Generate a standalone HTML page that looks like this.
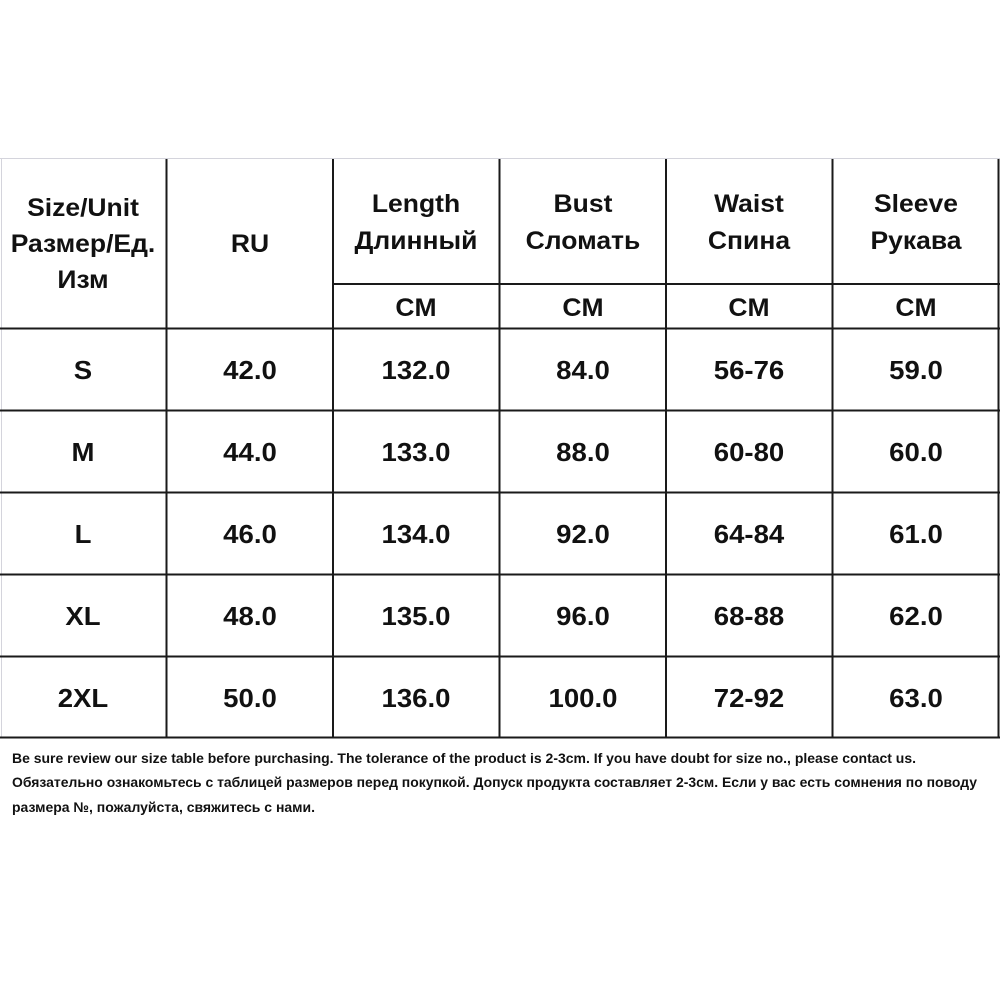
<!DOCTYPE html>
<html><head><meta charset="utf-8"><style>
html,body{margin:0;padding:0;background:#fff;}
svg{display:block;}
text{font-family:"Liberation Sans",Arial,sans-serif;font-weight:bold;fill:#111;}
</style></head><body>
<svg width="1000" height="1000" viewBox="0 0 1000 1000" xmlns="http://www.w3.org/2000/svg">
<rect width="1000" height="1000" fill="#fff"/>
<line x1="0" y1="158.5" x2="1000" y2="158.5" stroke="#d4d4dc" stroke-width="1"/>
<line x1="1.5" y1="158" x2="1.5" y2="738" stroke="#d4d4dc" stroke-width="1"/>
<g stroke="#1a1a1a" stroke-width="2">
<line x1="166.5" y1="159" x2="166.5" y2="738"/>
<line x1="333" y1="159" x2="333" y2="738"/>
<line x1="499.5" y1="159" x2="499.5" y2="738"/>
<line x1="666" y1="159" x2="666" y2="738"/>
<line x1="832.5" y1="159" x2="832.5" y2="738"/>
<line x1="998.5" y1="159" x2="998.5" y2="738"/>
<line x1="333" y1="284" x2="1000" y2="284"/>
<line x1="0" y1="328.5" x2="1000" y2="328.5"/>
<line x1="0" y1="410.5" x2="1000" y2="410.5"/>
<line x1="0" y1="492.5" x2="1000" y2="492.5"/>
<line x1="0" y1="574.5" x2="1000" y2="574.5"/>
<line x1="0" y1="656.5" x2="1000" y2="656.5"/>
<line x1="0" y1="737.5" x2="1000" y2="737.5"/>
</g>
<g font-size="25" text-anchor="middle" transform="scale(1.06,1)">
<text x="78.3" y="216">Size/Unit</text>
<text x="78.3" y="252">Размер/Ед.</text>
<text x="78.3" y="288">Изм</text>
<text x="235.85" y="252">RU</text>
<text x="392.45" y="212">Length</text>
<text x="392.45" y="249">Длинный</text>
<text x="550" y="212">Bust</text>
<text x="550" y="249">Сломать</text>
<text x="706.6" y="212">Waist</text>
<text x="706.6" y="249">Спина</text>
<text x="864.15" y="212">Sleeve</text>
<text x="864.15" y="249">Рукава</text>
<text x="392.45" y="316">CM</text>
<text x="550" y="316">CM</text>
<text x="706.6" y="316">CM</text>
<text x="864.15" y="316">CM</text>
</g>
<g font-size="26" text-anchor="middle" transform="scale(1.06,1)">
<text x="78.3" y="379">S</text><text x="235.85" y="379">42.0</text><text x="392.45" y="379">132.0</text><text x="550" y="379">84.0</text><text x="706.6" y="379">56-76</text><text x="864.15" y="379">59.0</text>
<text x="78.3" y="461">M</text><text x="235.85" y="461">44.0</text><text x="392.45" y="461">133.0</text><text x="550" y="461">88.0</text><text x="706.6" y="461">60-80</text><text x="864.15" y="461">60.0</text>
<text x="78.3" y="543">L</text><text x="235.85" y="543">46.0</text><text x="392.45" y="543">134.0</text><text x="550" y="543">92.0</text><text x="706.6" y="543">64-84</text><text x="864.15" y="543">61.0</text>
<text x="78.3" y="625">XL</text><text x="235.85" y="625">48.0</text><text x="392.45" y="625">135.0</text><text x="550" y="625">96.0</text><text x="706.6" y="625">68-88</text><text x="864.15" y="625">62.0</text>
<text x="78.3" y="707">2XL</text><text x="235.85" y="707">50.0</text><text x="392.45" y="707">136.0</text><text x="550" y="707">100.0</text><text x="706.6" y="707">72-92</text><text x="864.15" y="707">63.0</text>
</g>
<g font-size="14">
<text x="12" y="763" textLength="904" lengthAdjust="spacingAndGlyphs">Be sure review our size table before purchasing. The tolerance of the product is 2-3cm. If you have doubt for size no., please contact us.</text>
<text x="12" y="787" textLength="965" lengthAdjust="spacingAndGlyphs">Обязательно ознакомьтесь с таблицей размеров перед покупкой. Допуск продукта составляет 2-3см. Если у вас есть сомнения по поводу</text>
<text x="12" y="812" textLength="303" lengthAdjust="spacingAndGlyphs">размера №, пожалуйста, свяжитесь с нами.</text>
</g>
</svg>
</body></html>
